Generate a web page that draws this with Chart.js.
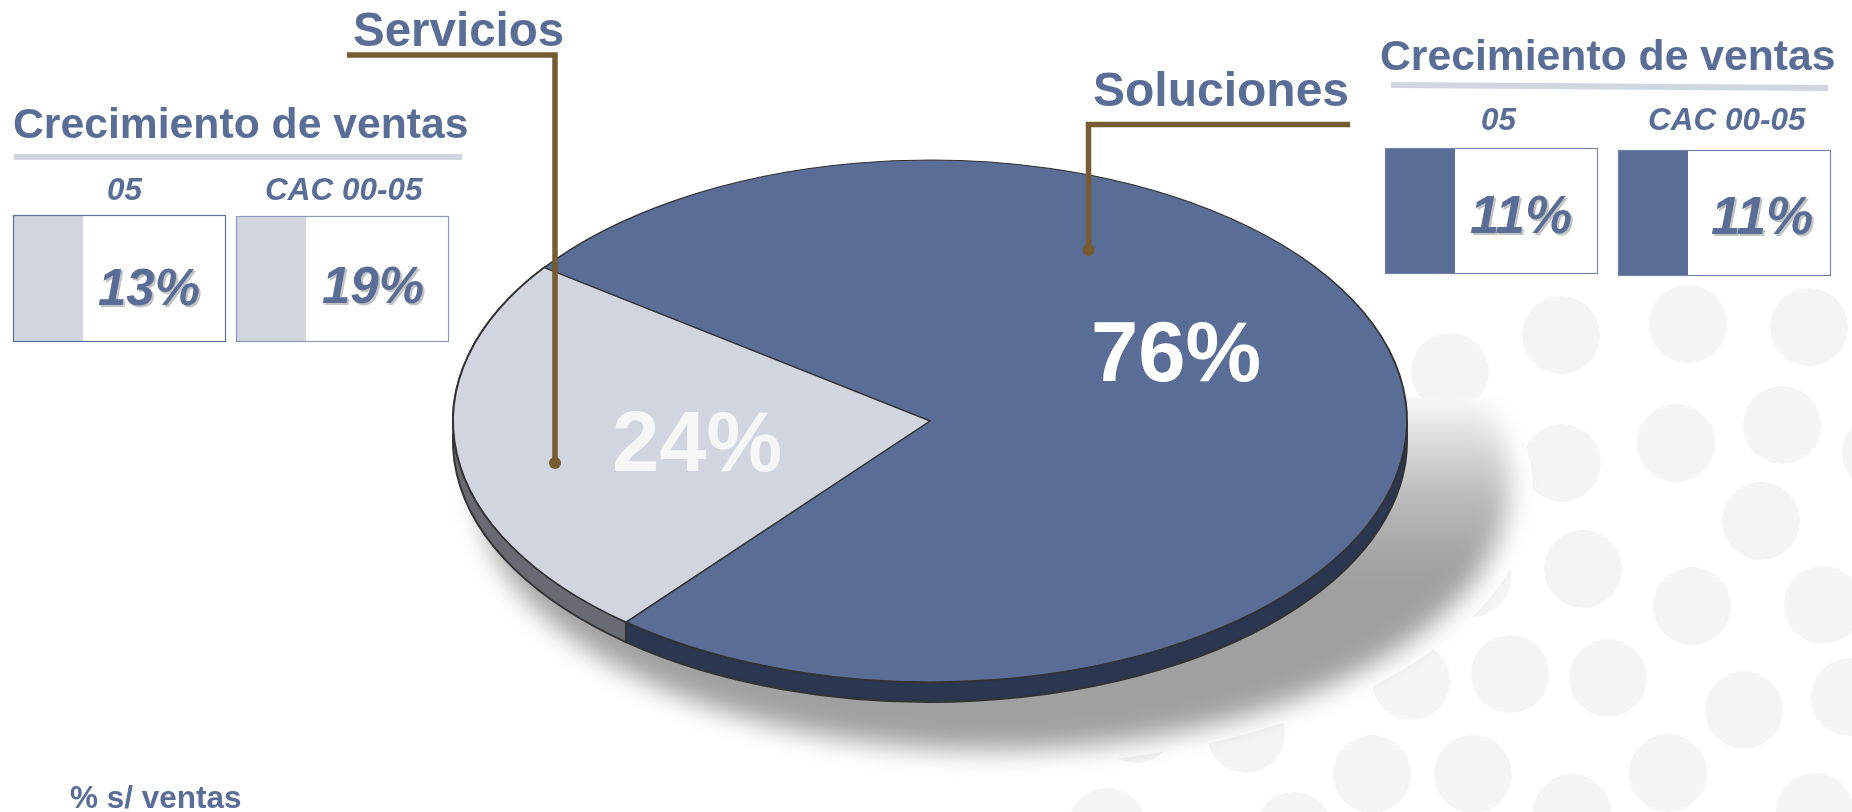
<!DOCTYPE html>
<html>
<head>
<meta charset="utf-8">
<title>Ventas</title>
<script src="https://cdn.jsdelivr.net/npm/chart.js@4/dist/chart.umd.min.js"></script>
<style>
  html, body { margin: 0; padding: 0; background: #fff; overflow: hidden; }
  canvas { display: block; }
</style>
</head>
<body>
<canvas id="pie-chart" width="1852" height="812"></canvas>
<script>
const SEGMENTS = ['Soluciones', 'Servicios'];
const SHARES = [76, 24];
const GROWTH_TITLE = 'Crecimiento de ventas';
const GROWTH_PERIODS = ['05', 'CAC 00-05'];
const SOLUCIONES_GROWTH = [11, 11];
const SERVICIOS_GROWTH = [13, 19];
const FOOTNOTE = '% s/ ventas';

const BLUE = '#5a6d96',
  LIGHT = '#d0d5df',
  BLUE_SIDE = '#2b3650',
  LIGHT_SIDE = '#686b71',
  OUTLINE = '#333333',
  LEADER = '#775b31',
  DOT = '#f4f4f4',
  FONT = '"Liberation Sans", Arial, sans-serif';

// the pie is a flat circle squashed into a tilted disc
const TILT = 0.547,
  DEPTH = 20;

// wallpaper circles behind the pie
const DOT_RADIUS = 39;
const DOT_CENTERS = [
  [1450, 372], [1561, 335], [1688, 324], [1809, 327], [1562, 463], [1676, 443],
  [1782, 425], [1881, 453], [1761, 521], [1583, 569], [1692, 606], [1823, 605],
  [1472, 578], [1411, 681], [1510, 674], [1608, 678], [1744, 710], [1850, 697],
  [1372, 774], [1473, 774], [1668, 773], [1572, 813], [1815, 812], [1294, 831],
  [1107, 827], [1136, 724], [1246, 734]
];

function drawText(ctx, text, x, y, font, color, shadow) {
  ctx.font = font;
  ctx.textAlign = 'left';
  ctx.textBaseline = 'alphabetic';
  if (shadow) {
    ctx.fillStyle = shadow;
    ctx.fillText(text, x + 2, y + 2);
  }
  ctx.fillStyle = color;
  ctx.fillText(text, x, y);
}

function drawBackground(ctx) {
  ctx.fillStyle = DOT;
  DOT_CENTERS.forEach(function (c) {
    ctx.beginPath();
    ctx.arc(c[0], c[1], DOT_RADIUS, 0, Math.PI * 2);
    ctx.fill();
  });
}

function drawDropShadow(ctx) {
  ctx.save();
  ctx.beginPath();
  ctx.rect(0, 398, 1852, 414);
  ctx.clip();

  // the shadow knocks the wallpaper out behind it
  ctx.fillStyle = '#ffffff';
  ctx.beginPath();
  ctx.ellipse(993, 490, 540, 276, 0, 0, Math.PI * 2);
  ctx.fill();

  const fade = ctx.createLinearGradient(0, 400, 0, 570);
  fade.addColorStop(0, '#f8f8f8');
  fade.addColorStop(0.2, '#e0e0e0');
  fade.addColorStop(0.6, '#b8b8b8');
  fade.addColorStop(1, '#a0a0a0');
  ctx.filter = 'blur(13px)';
  ctx.fillStyle = fade;
  ctx.beginPath();
  ctx.ellipse(993, 483, 517, 267, 0, 0, Math.PI * 2);
  ctx.fill();
  ctx.restore();
}

// side wall of the disc, only where an arc faces the viewer
function drawWalls(chart) {
  const ctx = chart.ctx,
    arcs = chart.getDatasetMeta(0).data,
    sides = [BLUE_SIDE, LIGHT_SIDE];

  arcs.forEach(function (arc, i) {
    const start = arc.startAngle,
      end = arc.endAngle,
      full = Math.PI * 2;
    let from = Math.max(start, full * Math.floor(end / full)),
      to = Math.min(end, from + Math.PI);
    if (from >= to) return;
    ctx.beginPath();
    ctx.ellipse(arc.x, arc.y, arc.outerRadius, arc.outerRadius * TILT, 0, from, to);
    ctx.ellipse(arc.x, arc.y + DEPTH, arc.outerRadius, arc.outerRadius * TILT, 0, to, from, true);
    ctx.closePath();
    ctx.fillStyle = sides[i];
    ctx.fill();
    ctx.strokeStyle = OUTLINE;
    ctx.lineWidth = 2;
    ctx.stroke();
  });
}

function drawLeader(ctx, points, dot) {
  ctx.strokeStyle = LEADER;
  ctx.lineWidth = 5.5;
  ctx.lineJoin = 'miter';
  ctx.beginPath();
  points.forEach(function (p, i) {
    if (i === 0) ctx.moveTo(p[0], p[1]);
    else ctx.lineTo(p[0], p[1]);
  });
  ctx.stroke();
  ctx.fillStyle = LEADER;
  ctx.beginPath();
  ctx.arc(dot[0], dot[1], 6, 0, Math.PI * 2);
  ctx.fill();
}

function drawTile(ctx, box, swatch, value, textX, textY, border, size) {
  ctx.fillStyle = '#ffffff';
  ctx.fillRect(box[0], box[1], box[2], box[3]);
  ctx.fillStyle = swatch;
  ctx.fillRect(box[0], box[1], 70, box[3] + 1);
  ctx.strokeStyle = border;
  ctx.lineWidth = 1.2;
  ctx.strokeRect(box[0] + 0.5, box[1] + 0.5, box[2], box[3]);
  drawText(ctx, value + '%', textX, textY, 'italic bold ' + size + 'px ' + FONT, BLUE, '#c2c2c2');
}

function drawAnnotations(chart) {
  const ctx = chart.ctx,
    period = 'italic bold 31.5px ' + FONT,
    segment = 'bold 47.5px ' + FONT;

  // share labels on the slices
  drawText(ctx, SHARES[0] + '%', 1091, 381, 'bold 85px ' + FONT, '#ffffff');
  drawText(ctx, SHARES[1] + '%', 612, 471, 'bold 85px ' + FONT, '#f6f6f6');

  drawLeader(ctx, [[347, 55], [555, 55], [555, 463]], [555, 463]);
  drawLeader(ctx, [[1350, 124.5], [1088.5, 124.5], [1088.5, 250]], [1088.5, 250]);

  drawText(ctx, SEGMENTS[1], 353, 46, segment, BLUE);
  drawText(ctx, SEGMENTS[0], 1093, 106, 'bold 48px ' + FONT, BLUE);

  // Servicios growth block
  drawText(ctx, GROWTH_TITLE, 13, 138, 'bold 42.7px ' + FONT, BLUE);
  ctx.fillStyle = LIGHT;
  ctx.fillRect(14, 154, 448, 6);
  drawText(ctx, GROWTH_PERIODS[0], 107, 200, period, BLUE);
  drawText(ctx, GROWTH_PERIODS[1], 265, 200, period, BLUE);
  drawTile(ctx, [13, 215, 212, 126], LIGHT, SERVICIOS_GROWTH[0], 98, 305, BLUE, 51);
  drawTile(ctx, [236, 216, 212, 125], LIGHT, SERVICIOS_GROWTH[1], 322, 303, '#8d9bb8', 51);

  // Soluciones growth block
  drawText(ctx, GROWTH_TITLE, 1380, 70, 'bold 42.7px ' + FONT, BLUE);
  ctx.strokeStyle = LIGHT;
  ctx.lineWidth = 6;
  ctx.beginPath();
  ctx.moveTo(1391, 85);
  ctx.lineTo(1828, 88);
  ctx.stroke();
  drawText(ctx, GROWTH_PERIODS[0], 1481, 130, period, BLUE);
  drawText(ctx, GROWTH_PERIODS[1], 1648, 130, period, BLUE);
  drawTile(ctx, [1385, 148, 212, 125], BLUE, SOLUCIONES_GROWTH[0], 1470, 233, '#7384a8', 53);
  drawTile(ctx, [1618, 150, 212, 125], BLUE, SOLUCIONES_GROWTH[1], 1711, 234, '#7384a8', 53);

  drawText(ctx, FOOTNOTE, 70, 808, 'bold 31.5px ' + FONT, BLUE);
}

const tiltedPie = {
  id: 'tiltedPie',
  beforeDraw: function (chart) {
    drawBackground(chart.ctx);
    drawDropShadow(chart.ctx);
  },
  beforeDatasetsDraw: function (chart) {
    const ctx = chart.ctx,
      arc = chart.getDatasetMeta(0).data[0];
    drawWalls(chart);
    ctx.save();
    ctx.translate(arc.x, arc.y);
    ctx.scale(1, TILT);
    ctx.translate(-arc.x, -arc.y);
  },
  afterDatasetsDraw: function (chart) {
    chart.ctx.restore();
    drawAnnotations(chart);
  }
};

new Chart(document.getElementById('pie-chart'), {
  type: 'pie',
  plugins: [tiltedPie],
  data: {
    labels: SEGMENTS,
    datasets: [{
      data: SHARES,
      backgroundColor: [BLUE, LIGHT],
      borderColor: OUTLINE,
      borderWidth: 2,
      borderAlign: 'center',
      clip: false
    }]
  },
  options: {
    responsive: false,
    animation: false,
    radius: 477,
    rotation: 306,
    layout: { padding: { left: 8, top: 30 } },
    plugins: {
      legend: { display: false },
      tooltip: { enabled: false },
      title: { display: false }
    }
  }
});
</script>
</body>
</html>
